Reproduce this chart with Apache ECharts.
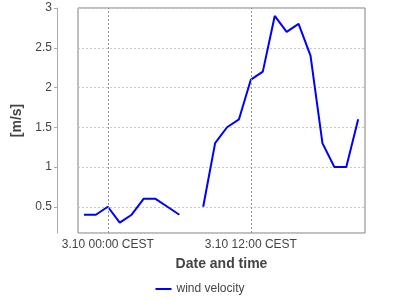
<!DOCTYPE html>
<html>
<head>
<meta charset="utf-8">
<script src="https://cdn.jsdelivr.net/npm/echarts@6/dist/echarts.min.js"></script>
<style>html,body{margin:0;padding:0;background:#fff}#c{width:400px;height:300px}</style>
</head>
<body>
<div id="c"></div>
<script>
// Hours relative to 3.10 00:00 (local), one reading per hour
var hours = [-2, -1, 0, 1, 2, 3, 4, 5, 6, 7, 8, 9, 10, 11, 12, 13, 14, 15, 16, 17, 18, 19, 20, 21];
var windVelocity = [0.4, 0.4, 0.5, 0.3, 0.4, 0.6, 0.6, 0.5, 0.4, null, 0.5, 1.3, 1.5, 1.6, 2.1, 2.2, 2.9, 2.7, 2.8, 2.4, 1.3, 1.0, 1.0, 1.6];
var tickHours = [0, 12];
var seriesName = 'wind velocity';
var xTitle = 'Date and time';
var yTitle = '[m/s]';

var base = new Date(2024, 2, 10, 0, 0, 0).getTime();
var H = 3600000;
var points = hours.map(function (h, i) { return [base + h * H, windVelocity[i]]; });
var tickTimes = tickHours.map(function (h) { return base + h * H; });

function pad(n) { return (n < 10 ? '0' : '') + n; }

var chart = echarts.init(document.getElementById('c'), null, {renderer: 'canvas'});
chart.setOption({
  animation: false,
  backgroundColor: '#ffffff',
  textStyle: {fontFamily: 'Liberation Sans'},
  grid: {left: 78, right: 35, top: 8, bottom: 67, show: true, borderColor: '#808080', borderWidth: 1, containLabel: false},
  xAxis: {
    type: 'time',
    min: base - 2.5 * H,
    max: base + 21.57 * H,
    splitNumber: 2,
    name: xTitle,
    nameLocation: 'middle',
    nameGap: 24,
    nameTextStyle: {fontWeight: 'bold', fontSize: 14, color: '#444', fontFamily: 'Liberation Sans'},
    axisLine: {show: false},
    axisTick: {show: false},
    axisLabel: {
      showMinLabel: false, showMaxLabel: false,
      color: '#444', fontSize: 12, margin: 6, fontFamily: 'Liberation Sans',
      formatter: function (v) {
        if (tickTimes.indexOf(v) < 0) return '';
        var d = new Date(v);
        return (d.getMonth() + 1) + '.' + d.getDate() + ' ' + pad(d.getHours()) + ':' + pad(d.getMinutes()) + ' CEST';
      }
    },
    splitLine: {show: false}
  },
  yAxis: {
    type: 'value',
    min: 0.17,
    max: 3.0,
    splitNumber: 5,
    offset: 21,
    name: yTitle,
    nameLocation: 'middle',
    nameGap: 25,
    nameRotate: 90,
    nameTextStyle: {fontWeight: 'bold', fontSize: 14, color: '#444', fontFamily: 'Liberation Sans'},
    axisLine: {show: true, lineStyle: {color: '#aaaaaa'}},
    axisTick: {show: true, length: 3, lineStyle: {color: '#aaaaaa'}},
    axisLabel: {showMinLabel: false, color: '#444', fontSize: 12, margin: 5, fontFamily: 'Liberation Sans'},
    splitLine: {show: true, lineStyle: {color: '#c8c8c8', type: [2, 2], width: 1}}
  },
  legend: {
    bottom: 0,
    left: 'center',
    icon: 'rect',
    itemWidth: 16,
    itemHeight: 2,
    itemGap: 10,
    textStyle: {color: '#444', fontSize: 12, fontFamily: 'Liberation Sans'},
    data: [seriesName]
  },
  series: [{
    name: seriesName,
    type: 'line',
    data: points,
    showSymbol: false,
    connectNulls: false,
    lineStyle: {color: '#0000ff', width: 2},
    itemStyle: {color: '#0000ff'},
    markLine: {
      silent: true,
      symbol: 'none',
      label: {show: false},
      lineStyle: {color: '#909090', type: [2, 2], width: 1},
      data: tickTimes.map(function (t) { return {xAxis: t}; })
    }
  }]
});
</script>
</body>
</html>
